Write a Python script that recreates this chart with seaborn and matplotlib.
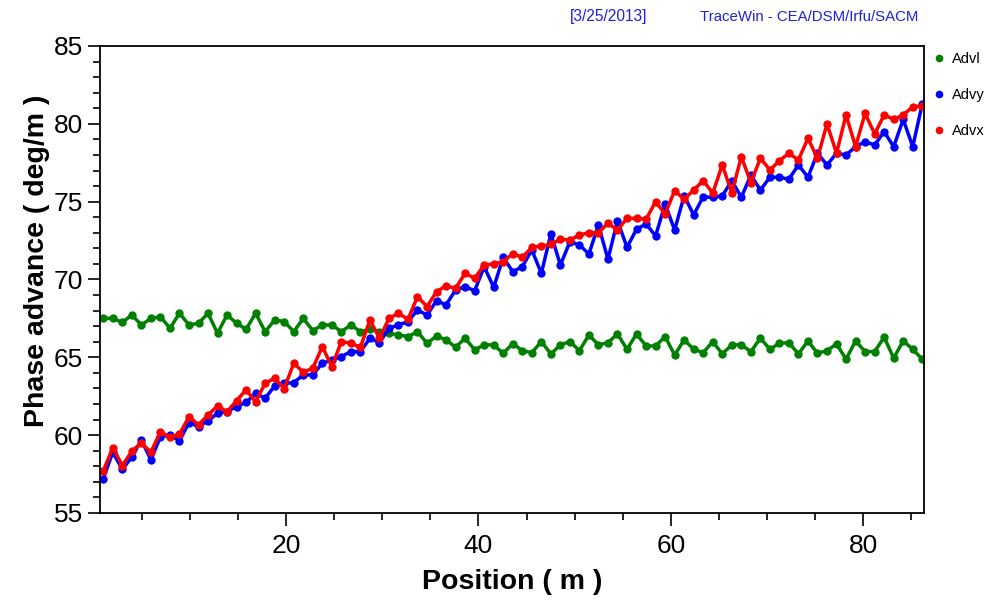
import matplotlib
matplotlib.use("Agg")
import matplotlib.pyplot as plt
from matplotlib.lines import Line2D
from matplotlib.ticker import MultipleLocator
import seaborn as sns
import pandas as pd

# Longitudinal position of each lattice period (m)
position = [1.02, 2.01, 3.00, 3.99, 4.98, 5.97, 6.96, 7.95, 8.94, 9.93,
            10.92, 11.90, 12.89, 13.88, 14.87, 15.86, 16.85, 17.84, 18.83, 19.82,
            20.81, 21.80, 22.79, 23.78, 24.77, 25.76, 26.75, 27.74, 28.73, 29.72,
            30.71, 31.69, 32.68, 33.67, 34.66, 35.65, 36.64, 37.63, 38.62, 39.61,
            40.60, 41.59, 42.58, 43.57, 44.56, 45.55, 46.54, 47.53, 48.52, 49.51,
            50.50, 51.48, 52.47, 53.46, 54.45, 55.44, 56.43, 57.42, 58.41, 59.40,
            60.39, 61.38, 62.37, 63.36, 64.35, 65.34, 66.33, 67.32, 68.31, 69.30,
            70.29, 71.27, 72.26, 73.25, 74.24, 75.23, 76.22, 77.21, 78.20, 79.19,
            80.18, 81.17, 82.16, 83.15, 84.14, 85.13, 86.12]

# Phase advance per metre (deg/m)
advl = [67.51, 67.50, 67.25, 67.72, 67.08, 67.50, 67.61, 66.87, 67.83, 67.08,
        67.19, 67.83, 66.55, 67.72, 67.19, 66.80, 67.83, 66.65, 67.40, 67.30,
        66.65, 67.50, 66.72, 67.08, 67.08, 66.65, 67.08, 66.65, 66.80, 66.65,
        66.55, 66.44, 66.33, 66.65, 65.90, 66.37, 66.12, 65.65, 66.23, 65.48,
        65.80, 65.80, 65.26, 65.88, 65.43, 65.30, 66.01, 65.22, 65.80, 66.01,
        65.43, 66.44, 65.80, 65.94, 66.50, 65.52, 66.50, 65.73, 65.73, 66.33,
        65.15, 66.12, 65.52, 65.30, 66.01, 65.22, 65.80, 65.80, 65.37, 66.23,
        65.52, 65.90, 65.94, 65.22, 66.05, 65.26, 65.43, 65.86, 64.88, 66.05,
        65.37, 65.37, 66.29, 64.95, 66.05, 65.52, 64.88]

advy = [57.20, 58.90, 57.80, 58.60, 59.69, 58.41, 59.90, 60.00, 59.64, 60.81,
        60.55, 60.91, 61.41, 61.51, 61.84, 62.10, 62.69, 62.37, 63.16, 63.33,
        63.37, 63.87, 63.87, 64.62, 64.83, 65.05, 65.37, 65.37, 66.23, 65.94,
        66.87, 67.08, 67.29, 68.04, 67.72, 68.64, 68.37, 69.33, 69.54, 69.28,
        70.82, 69.50, 71.43, 70.50, 70.82, 71.90, 70.40, 72.93, 70.93, 72.43,
        72.22, 71.64, 73.50, 71.30, 73.78, 72.07, 73.23, 73.57, 72.80, 74.85,
        73.18, 75.37, 74.15, 75.32, 75.27, 75.37, 76.35, 75.28, 76.71, 75.75,
        76.57, 76.57, 76.44, 77.36, 76.57, 78.11, 77.36, 78.11, 78.00, 78.53,
        78.86, 78.64, 79.50, 78.53, 80.29, 78.53, 81.28]

advx = [57.70, 59.20, 58.05, 58.97, 59.50, 58.90, 60.23, 59.86, 60.07, 61.19,
        60.66, 61.30, 61.88, 61.51, 62.22, 62.91, 62.15, 63.33, 63.66, 62.99,
        64.62, 64.05, 64.30, 65.69, 64.40, 66.01, 65.90, 65.65, 67.40, 66.23,
        67.51, 67.83, 67.44, 68.90, 68.26, 69.22, 69.59, 69.44, 70.40, 70.08,
        70.93, 71.00, 71.15, 71.66, 71.43, 72.07, 72.15, 72.26, 72.58, 72.54,
        72.86, 73.01, 73.01, 73.61, 73.18, 73.93, 73.93, 73.87, 75.00, 74.21,
        75.71, 75.15, 75.75, 76.35, 75.55, 77.36, 75.58, 77.89, 76.22, 77.79,
        77.04, 77.63, 78.11, 77.68, 79.07, 77.79, 80.00, 78.11, 80.57, 78.53,
        80.68, 79.35, 80.57, 80.29, 80.57, 81.10, 81.15]

series_names = ["Advl", "Advy", "Advx"]
series_colors = {"Advl": "#008000", "Advy": "#0000ff", "Advx": "#ff0000"}

y_ticks = [55, 60, 65, 70, 75, 80, 85]
x_ticks = [20, 40, 60, 80]

sns.set_theme(style="white")
plt.rcParams["font.family"] = ["Liberation Sans", "DejaVu Sans"]
plt.rcParams["text.color"] = "black"
plt.rcParams["xtick.color"] = "black"
plt.rcParams["ytick.color"] = "black"
plt.rcParams["axes.labelcolor"] = "black"

frame = pd.DataFrame({
    "Position": position * 3,
    "Advance": advl + advy + advx,
    "Series": ["Advl"] * len(advl) + ["Advy"] * len(advy) + ["Advx"] * len(advx),
})

fig = plt.figure(figsize=(9.88, 6.0), dpi=100)
ax = fig.add_axes([100 / 988, 1 - 513 / 600, 824 / 988, 467 / 600])

for name in series_names:
    sub = frame[frame["Series"] == name]
    sns.lineplot(data=sub, x="Position", y="Advance", ax=ax,
                 color=series_colors[name], linewidth=2.5,
                 marker="o", markersize=6, markeredgewidth=0,
                 estimator=None, sort=False, legend=False)

ax.set_xlim(0.68, 86.3)
ax.set_ylim(55, 85)
ax.set_xticks(x_ticks)
ax.set_yticks(y_ticks)
ax.xaxis.set_minor_locator(MultipleLocator(5))
ax.yaxis.set_minor_locator(MultipleLocator(1))
ax.tick_params(axis="both", which="major", direction="out", length=9,
               width=1.2, color="black", labelcolor="black", labelsize=19, pad=3,
               bottom=True, left=True, top=False, right=False)
ax.tick_params(axis="x", which="major", pad=6)
ax.tick_params(axis="both", which="minor", direction="out", length=5,
               width=1.2, color="black",
               bottom=True, left=True, top=False, right=False)
for spine in ax.spines.values():
    spine.set_color("black")
    spine.set_linewidth(1.3)

ax.set_xlabel("Position ( m )", fontsize=20.5, fontweight="bold", color="black")
ax.set_ylabel("Phase advance ( deg/m )", fontsize=20.5, fontweight="bold", color="black")
ax.xaxis.set_label_coords(0.5, -0.12)
ax.yaxis.set_label_coords(-0.061, 0.54)

handles = [Line2D([0], [0], marker="o", linestyle="none", markersize=5.5,
                  markeredgewidth=0, color=series_colors[n]) for n in series_names]
leg = fig.legend(handles, series_names, loc="upper left",
                 bbox_to_anchor=(935 / 988, 1 - 52 / 600), frameon=False,
                 fontsize=10.5, handlelength=0.5, handletextpad=0.65,
                 labelspacing=1.5, borderpad=0, borderaxespad=0)
for txt in leg.get_texts():
    txt.set_color("black")

fig.text(570 / 988, 1 - 17 / 600, "[3/25/2013]", color="#2020e0",
         fontsize=11.2, ha="left", va="center")
fig.text(700 / 988, 1 - 17 / 600, "TraceWin - CEA/DSM/Irfu/SACM", color="#2020e0",
         fontsize=10.8, ha="left", va="center")

fig.savefig("out.png", dpi=100, facecolor="white")
